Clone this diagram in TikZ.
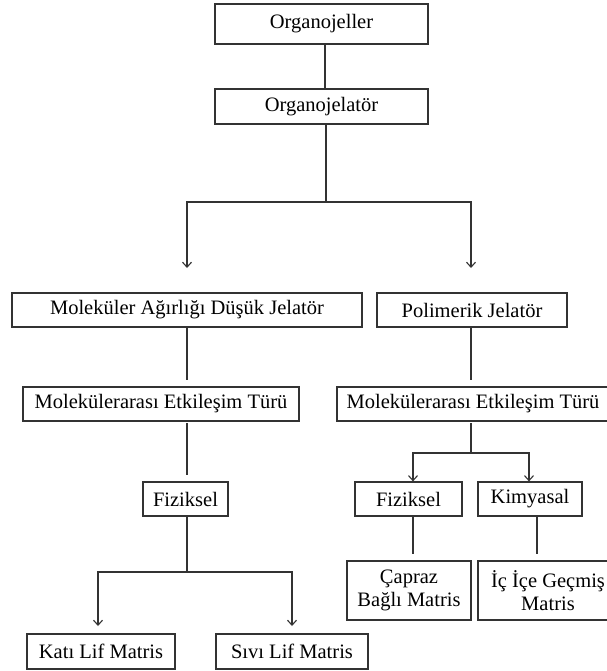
\documentclass[tikz,border=0pt]{standalone}
\usepackage{fontspec}
\setmainfont{Liberation Serif}
\usetikzlibrary{arrows.meta}
\begin{document}
\begin{tikzpicture}[x=1pt,y=-1pt,
  box/.style={draw=black!80, line width=1.2pt, inner sep=0pt, align=center,
    font=\fontsize{20.5}{23}\selectfont, text=black},
  conn/.style={draw=black!80, line width=1.2pt},
  arr/.style={conn, -{Straight Barb[length=5pt,width=9pt,line width=1.1pt]}}]
\useasboundingbox[fill=white] (0,0) rectangle (606,671);
% boxes
\node[box, minimum width=213pt, minimum height=40pt] (n1) at (321.5,24) {Organojeller};
\node[box, minimum width=213pt, minimum height=35pt] (n2) at (321.5,106.5) {Organojelatör};
\node[box, minimum width=350pt, minimum height=34pt] (n3) at (187,310) {Moleküler Ağırlığı Düşük Jelatör};
\node[box, minimum width=190pt, minimum height=34pt] (n4) at (472,310) {Polimerik Jelatör};
\node[box, minimum width=276pt, minimum height=34pt] (n5) at (161,404) {Molekülerarası Etkileşim Türü};
\node[box, minimum width=272pt, minimum height=34pt] (n6) at (473,404) {Molekülerarası Etkileşim Türü};
\node[box, minimum width=85pt, minimum height=34pt] (n7) at (185.5,499) {Fiziksel};
\node[box, minimum width=107pt, minimum height=34pt] (n8) at (408.5,499) {Fiziksel};
\node[box, minimum width=104pt, minimum height=34pt] (n9) at (530,499) {Kimyasal};
\node[box, minimum width=124pt, minimum height=59pt] (n10) at (409,590.5) {Çapraz\\Bağlı Matris};
\node[box, minimum width=140pt, minimum height=59pt] (n11) at (548,590.5) {İç İçe Geçmiş\\Matris};
\node[box, minimum width=148pt, minimum height=35pt] (n12) at (101,651.5) {Katı Lif Matris};
\node[box, minimum width=152pt, minimum height=35pt] (n13) at (292,651.5) {Sıvı Lif Matris};
% junction coordinates
\coordinate (j1) at (326,202);
\coordinate (a1) at (187,268);
\coordinate (a2) at (471,268);
\coordinate (e3) at (187,380);
\coordinate (e4) at (471,380);
\coordinate (s5) at (187,423);
\coordinate (e5) at (187,475);
\coordinate (j7) at (187,572);
\coordinate (a12) at (98,626);
\coordinate (a13) at (292,626);
\coordinate (s6) at (471,423);
\coordinate (j6) at (471,453);
\coordinate (e8) at (413,554);
\coordinate (e9) at (537,554);
% connectors
\draw[conn] (n1.south -| 325,0) -- (n2.north -| 325,0);
\draw[conn] (n2.south -| j1) -- (j1);
\draw[arr] (j1) -| (a1);
\draw[arr] (j1) -| (a2);
\draw[conn] (n3.south -| e3) -- (e3);
\draw[conn] (n4.south -| e4) -- (e4);
\draw[conn] (s5) -- (e5);
\draw[conn] (n7.south -| j7) -- (j7);
\draw[arr] (j7) -| (a12);
\draw[arr] (j7) -| (a13);
\draw[conn, line width=2pt] (s6) -- (j6);
\draw[arr] (j6) -| (n8.north -| 413,0);
\draw[arr] (j6) -| (n9.north -| 529,0);
\draw[conn] (n8.south -| e8) -- (e8);
\draw[conn] (n9.south -| e9) -- (e9);
\end{tikzpicture}
\end{document}
